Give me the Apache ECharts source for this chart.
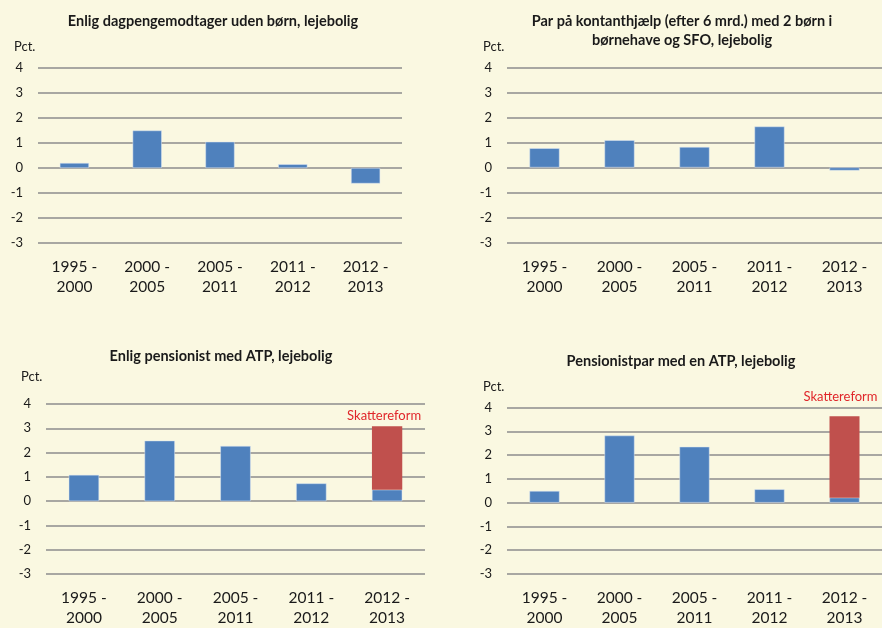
<!DOCTYPE html>
<html>
<head>
<meta charset="utf-8">
<script src="https://cdn.jsdelivr.net/npm/echarts@6/dist/echarts.min.js"></script>
<style>
  html, body { margin: 0; padding: 0; background: #FAF8E1; }
  #main { width: 882px; height: 628px; }
</style>
</head>
<body>
<div id="main"></div>
<script>
// data
var categories = ['1995 -\n2000', '2000 -\n2005', '2005 -\n2011', '2011 -\n2012', '2012 -\n2013'];
var yTicks = [-3, 4, 1];  // min, max, interval

var titles = [
  'Enlig dagpengemodtager uden børn, lejebolig',
  'Par på kontanthjælp (efter 6 mrd.) med 2 børn i\nbørnehave og SFO, lejebolig',
  'Enlig pensionist med ATP, lejebolig',
  'Pensionistpar med en ATP, lejebolig'
];

var dagpenge = [0.2, 1.5, 1.05, 0.15, -0.62];
var kontanthjaelp = [0.77, 1.09, 0.82, 1.64, -0.12];
var pensionistEnlig = [1.08, 2.49, 2.27, 0.73, 0.47];
var pensionistEnligReform = [null, null, null, null, 2.61];
var pensionistPar = [0.49, 2.82, 2.35, 0.56, 0.21];
var pensionistParReform = [null, null, null, null, 3.42];
var reformLabel = 'Skattereform';

var FONT = 'Lato, "Open Sans", sans-serif';
var BLUE = '#4F81BD';
var RED = '#C0504D';

var grids = [
  { left: 38, top: 68, width: 364, height: 175 },
  { left: 507, top: 67.5, width: 380, height: 175 },
  { left: 46, top: 404, width: 379, height: 175 },
  { left: 507, top: 407.5, width: 380, height: 175 }
];

// title centres (title padding shifts them ~5px right, so compensated)
var titlePos = [
  { left: 208, top: 6.5 },
  { left: 677, top: 6.5 },
  { left: 216, top: 342 },
  { left: 676, top: 346.5 }
];

var pctPos = [
  { left: 14, top: 40 },
  { left: 483, top: 40 },
  { left: 21, top: 370 },
  { left: 483, top: 380 }
];

var chart = echarts.init(document.getElementById('main'));

var option = {
  backgroundColor: '#FAF8E1',
  animation: false,
  title: titles.map(function (t, i) {
    return {
      text: t,
      left: titlePos[i].left,
      top: titlePos[i].top,
      textAlign: 'center',
      textStyle: { fontFamily: FONT, fontSize: 14.5, fontWeight: 'bold', color: '#1a1a1a', lineHeight: 19 }
    };
  }),
  graphic: pctPos.map(function (p) {
    return {
      type: 'text', left: p.left, top: p.top,
      style: { text: 'Pct.', font: '13px ' + FONT, fill: '#1a1a1a' }
    };
  }),
  grid: grids,
  xAxis: grids.map(function (g, i) {
    return {
      type: 'category', gridIndex: i, data: categories,
      position: 'bottom',
      axisLine: { show: false }, axisTick: { show: false },
      axisLabel: { fontFamily: FONT, fontSize: 15.5, color: '#1a1a1a', lineHeight: 20, margin: 14, interval: 0 }
    };
  }),
  yAxis: grids.map(function (g, i) {
    return {
      type: 'value', gridIndex: i, min: yTicks[0], max: yTicks[1], interval: yTicks[2],
      axisLine: { show: false }, axisTick: { show: false },
      axisLabel: { fontFamily: FONT, fontSize: 13, color: '#1a1a1a', margin: 15 },
      splitLine: { lineStyle: { color: '#8C8C8C', width: 1.5 } }
    };
  }),
  series: [
    { type: 'bar', xAxisIndex: 0, yAxisIndex: 0, data: dagpenge, barWidth: '40%',
      itemStyle: { color: BLUE, borderColor: '#DCE6F2', borderWidth: 0.5 } },
    { type: 'bar', xAxisIndex: 1, yAxisIndex: 1, data: kontanthjaelp, barWidth: '40%',
      itemStyle: { color: BLUE, borderColor: '#DCE6F2', borderWidth: 0.5 } },
    { type: 'bar', xAxisIndex: 2, yAxisIndex: 2, data: pensionistEnlig, stack: 'p1', barWidth: '40%',
      itemStyle: { color: BLUE, borderColor: '#DCE6F2', borderWidth: 0.5 } },
    { type: 'bar', xAxisIndex: 2, yAxisIndex: 2, data: pensionistEnligReform, stack: 'p1', barWidth: '40%',
      itemStyle: { color: RED },
      label: { show: true, position: 'top', distance: 4, offset: [-3, 0], formatter: reformLabel,
        fontFamily: FONT, fontSize: 13, color: '#E0262A' } },
    { type: 'bar', xAxisIndex: 3, yAxisIndex: 3, data: pensionistPar, stack: 'p2', barWidth: '40%',
      itemStyle: { color: BLUE, borderColor: '#DCE6F2', borderWidth: 0.5 } },
    { type: 'bar', xAxisIndex: 3, yAxisIndex: 3, data: pensionistParReform, stack: 'p2', barWidth: '40%',
      itemStyle: { color: RED },
      label: { show: true, position: 'top', distance: 13, offset: [-4, 0], formatter: reformLabel,
        fontFamily: FONT, fontSize: 13, color: '#E0262A' } }
  ]
};

chart.setOption(option);
</script>
</body>
</html>
